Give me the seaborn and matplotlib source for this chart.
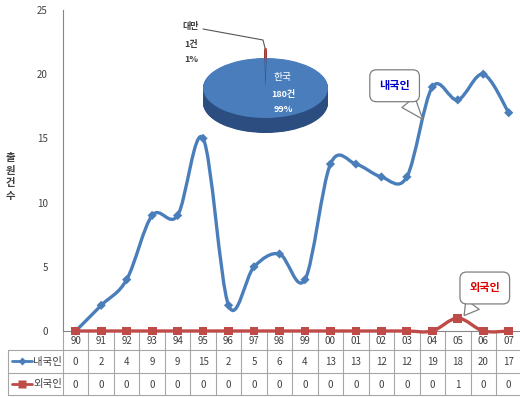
import numpy as np
import matplotlib
matplotlib.use("Agg")
import matplotlib.pyplot as plt
from matplotlib.path import Path
from matplotlib.patches import PathPatch
import seaborn as sns
import pandas as pd

# ---- data -------------------------------------------------------------
years = ['90', '91', '92', '93', '94', '95', '96', '97', '98', '99',
         '00', '01', '02', '03', '04', '05', '06', '07']
domestic = [0, 2, 4, 9, 9, 15, 2, 5, 6, 4, 13, 13, 12, 12, 19, 18, 20, 17]
foreign = [0, 0, 0, 0, 0, 0, 0, 0, 0, 0, 0, 0, 0, 0, 0, 1, 0, 0]
series_names = ['내국인', '외국인']
y_label = '출원건수'

pie_names = ['대만', '한국']
pie_counts = [1, 180]

# ---- style -------------------------------------------------------------
sns.set_style("white")
plt.rcParams['font.family'] = ['Noto Sans CJK KR', 'DejaVu Sans']

BLUE = '#4a7ebb'
RED = '#be4b48'
GRID = '#a6a6a6'
TXT = '#404040'

W, H = 520, 398
fig = plt.figure(figsize=(W / 100, H / 100), dpi=100)

# plot area in pixels
px_left, px_right, px_top, px_bottom = 63, 520, 10, 331
unit = 25.47  # pixels per category
xmax = -0.5 + (px_right - px_left) / unit

ax = fig.add_axes([px_left / W, 1 - px_bottom / H,
                   (px_right - px_left) / W, (px_bottom - px_top) / H])
ax.set_xlim(-0.5, xmax)
ax.set_ylim(0, 25)
ax.patch.set_alpha(0)
for s in ['top', 'right']:
    ax.spines[s].set_visible(False)
ax.spines['left'].set_color('#868686')
ax.spines['bottom'].set_color('#868686')
ax.set_xticks([])
ax.set_yticks(range(0, 26, 5))
ax.tick_params(axis='y', length=3, width=0.8, color='#868686',
               labelsize=7, labelcolor=TXT, pad=8)


def smooth_path(xs, ys):
    """Bezier path through every point, Excel-like smoothing."""
    n = len(xs)
    verts = [(xs[0], ys[0])]
    codes = [Path.MOVETO]
    for i in range(n - 1):
        a = i - 1 if i > 0 else i
        d = i + 2 if i + 2 < n else i + 1
        c1 = (xs[i] + (xs[i + 1] - xs[a]) / 6, ys[i] + (ys[i + 1] - ys[a]) / 6)
        c2 = (xs[i + 1] - (xs[d] - xs[i]) / 6, ys[i + 1] - (ys[d] - ys[i]) / 6)
        verts += [c1, c2, (xs[i + 1], ys[i + 1])]
        codes += [Path.CURVE4] * 3
    return Path(verts, codes)


xs = np.arange(len(years))
df = pd.DataFrame({'x': np.concatenate([xs, xs]),
                   'v': domestic + foreign,
                   'series': [series_names[0]] * len(xs) + [series_names[1]] * len(xs)})

ax.add_patch(PathPatch(smooth_path(xs, domestic), fc='none', ec=BLUE, lw=2.4,
                       zorder=3, clip_on=False))
ax.add_patch(PathPatch(smooth_path(xs, foreign), fc='none', ec=RED, lw=2.4,
                       zorder=4, clip_on=False))
sns.scatterplot(data=df, x='x', y='v', hue='series', style='series',
                markers={series_names[0]: 'D', series_names[1]: 's'},
                palette={series_names[0]: BLUE, series_names[1]: RED},
                s=28, edgecolor='none', legend=False, ax=ax,
                zorder=5, clip_on=False)
ax.collections[-1].set_sizes([22 if s == series_names[0] else 40 for s in df['series']])
ax.set_xlabel('')
ax.set_ylabel('')

# vertical axis title, one character per line
fig.text(10 / W, 1 - 177 / H, '\n'.join(y_label), ha='center', va='center',
         fontsize=7.5, color=TXT, fontweight='bold', linespacing=1.35)

# callouts
bubble = dict(boxstyle='round,pad=0.85,rounding_size=0.6', fc='white', ec='#7f7f7f', lw=0.9)
pointer = dict(arrowstyle='wedge,tail_width=1.5,shrink_factor=0.5',
               fc='white', ec='#7f7f7f', lw=0.9, shrinkA=0, shrinkB=0)
ax.annotate(series_names[0], xy=(13.62, 16.5), xytext=(12.52, 19.1),
            ha='center', va='center', fontsize=8, fontweight='bold', color='#0000cc',
            bbox=bubble, zorder=6, arrowprops=pointer)
ax.annotate(series_names[1], xy=(15.25, 1.2), xytext=(16.06, 3.35),
            ha='center', va='center', fontsize=8, fontweight='bold', color='#e00000',
            bbox=bubble, zorder=6, arrowprops=pointer)

# ---- data table under the axis -----------------------------------------
tab = fig.add_axes([0, 0, 1, 1], zorder=-1)
tab.set_xlim(-0.5 - px_left / unit, xmax)
tab.set_ylim(H, 0)
tab.axis('off')
xl = -0.5 - (px_left - 8) / unit
row_y = [331, 350, 373, 395]
for k in range(len(years) + 1):
    tab.plot([k - 0.5, k - 0.5], [row_y[0], row_y[3]], color=GRID, lw=0.8)
tab.plot([xl, xl], [row_y[1], row_y[3]], color=GRID, lw=0.8)
for yy in row_y[1:]:
    tab.plot([xl, xmax], [yy, yy], color=GRID, lw=0.8)

for i, yr in enumerate(years):
    tab.text(i, 341, yr, ha='center', va='center', fontsize=7, color=TXT)
    tab.text(i, 362, str(domestic[i]), ha='center', va='center', fontsize=7, color=TXT)
    tab.text(i, 384.5, str(foreign[i]), ha='center', va='center', fontsize=7, color=TXT)


def px2x(p):
    return -0.5 + (p - px_left) / unit


for yy, name, col, mk, ms in [(362, series_names[0], BLUE, 'D', 4),
                              (384.5, series_names[1], RED, 's', 6)]:
    tab.plot([px2x(12), px2x(32)], [yy - 1, yy - 1], color=col, lw=2)
    tab.plot([px2x(22)], [yy - 1], marker=mk, color=col, ms=ms, mec='none')
    tab.text(px2x(33), yy, name, ha='left', va='center', fontsize=7.5, color=TXT)

# ---- 3-D style pie -------------------------------------------------------
cx, cy, ra, rb = 265.5, 88, 62.5, 30
pb = (170, 15, 362, 165)  # left, top, right, bottom in pixels
pax = fig.add_axes([pb[0] / W, 1 - pb[3] / H, (pb[2] - pb[0]) / W, (pb[3] - pb[1]) / H])

share = pie_counts[0] / sum(pie_counts) * 360
start = 90 - share / 2
expl = [10 / rb, 0]
depth = 15 / rb
for d in np.linspace(depth, 0.02, 24):
    pax.pie(pie_counts, colors=['#8c2f2d', '#2b4d7f'], startangle=start, explode=expl,
            center=(0, -d), radius=1, wedgeprops=dict(lw=0), frame=True)
pax.pie(pie_counts, colors=[RED, '#4a7dbc'], startangle=start, explode=expl,
        center=(0, 0), radius=1, wedgeprops=dict(lw=0), frame=True)
# squash the circle into an ellipse
pax.set_aspect('auto')
pax.set_position([pb[0] / W, 1 - pb[3] / H, (pb[2] - pb[0]) / W, (pb[3] - pb[1]) / H])
pax.set_xlim((pb[0] - cx) / ra, (pb[2] - cx) / ra)
pax.set_ylim((cy - pb[3]) / rb, (cy - pb[1]) / rb)
pax.axis('off')

total = sum(pie_counts)
pct = [round(c / total * 100) for c in pie_counts]


def pp(x, y):
    return ((x - cx) / ra, (cy - y) / rb)


for txt, y in [(pie_names[1], 77), (f'{pie_counts[1]}건', 95), (f'{pct[1]}%', 109)]:
    pax.text(*pp(283, y), txt, ha='center', va='center', fontsize=7 if y < 80 else 6.5,
             color='white', fontweight='normal' if y < 80 else 'bold')
for txt, y in [(pie_names[0], 27), (f'{pie_counts[0]}건', 44), (f'{pct[0]}%', 59)]:
    pax.text(*pp(191, y), txt, ha='center', va='center', fontsize=6.5,
             color=TXT, fontweight='bold')
lx, ly = zip(pp(203, 29), pp(263, 40), pp(265, 48))
pax.plot(lx, ly, color='#555555', lw=0.8)

fig.savefig('out.png', dpi=100, facecolor='white')
